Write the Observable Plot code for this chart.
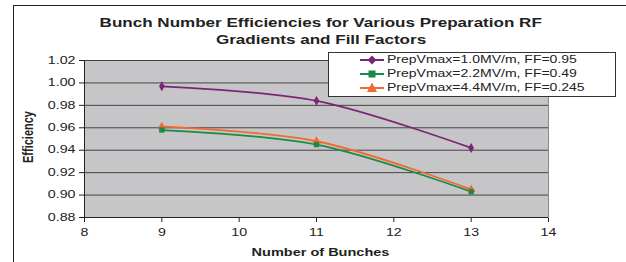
<!DOCTYPE html>
<html>
<head>
<meta charset="utf-8">
<script src="https://cdn.jsdelivr.net/npm/d3@7"></script>
<script src="https://cdn.jsdelivr.net/npm/@observablehq/plot@0.6"></script>
<style>
  html, body { margin: 0; padding: 0; background: #fff; }
  #wrap { position: relative; width: 626px; height: 262px; overflow: hidden; font-family: "Liberation Sans", Arial, sans-serif; color: #222; }
  #border { position: absolute; left: 13px; top: 5px; width: 700px; height: 300px; border-left: 1px solid #222; border-top: 1px solid #222; }
  .tline { position: absolute; left: 0; width: 642px; text-align: center; font-weight: bold; font-size: 12px; line-height: 17px; white-space: nowrap; }
  .st { display: inline-block; transform: scaleX(1.42); transform-origin: center; }
  #legend { position: absolute; left: 328px; top: 52px; width: 286px; height: 43px; border: 1px solid #333; background: #fff; font-size: 10px; }
  .row { position: absolute; left: 31px; height: 14px; line-height: 14px; white-space: nowrap; }
  .row svg { position: absolute; left: 0; top: 0; }
  .row span { position: absolute; left: 27px; top: 0; display: inline-block; transform: scaleX(1.4); transform-origin: left center; }
  #xlabel { position: absolute; left: 0; width: 641px; top: 247px; text-align: center; font-weight: bold; font-size: 10px; line-height: 12px; white-space: nowrap; }
  #ylabel { position: absolute; left: 28px; top: 137px; font-weight: bold; font-size: 11px; line-height: 12px; white-space: nowrap; transform: translate(-50%, -50%) rotate(-90deg) scaleY(1.35); }
  #chart { position: absolute; left: 0; top: 0; }
</style>
</head>
<body>
<div id="wrap">
  <div id="chart"></div>
  <div id="border"></div>
  <div class="tline" style="top:15px"><span class="st">Bunch Number Efficiencies for Various Preparation RF</span></div>
  <div class="tline" style="top:32px"><span class="st">Gradients and Fill Factors</span></div>
  <div id="legend"></div>
  <div id="xlabel"><span class="st" style="transform: scaleX(1.45)">Number of Bunches</span></div>
  <div id="ylabel">Efficiency</div>
</div>
<script>
const bunches = [9, 11, 13];
const seriesNames = [
  "PrepVmax=1.0MV/m, FF=0.95",
  "PrepVmax=2.2MV/m, FF=0.49",
  "PrepVmax=4.4MV/m, FF=0.245"
];
const eff1 = [0.997, 0.984, 0.942];
const eff2 = [0.958, 0.945, 0.903];
const eff3 = [0.961, 0.948, 0.905];
const colors = ["#7b2577", "#1a8a48", "#f26a2e"];
const symbols = ["diamond", "square", "triangle"];
const yTicks = [0.88, 0.90, 0.92, 0.94, 0.96, 0.98, 1.00, 1.02];
const xTicks = [8, 9, 10, 11, 12, 13, 14];

const allSeries = [eff1, eff2, eff3];
const data = allSeries.flatMap((vals, i) => bunches.map((b, j) => ({series: seriesNames[i], x: b, y: vals[j], k: i})));

const chart = Plot.plot({
  width: 626,
  height: 262,
  marginLeft: 84,
  marginRight: 78,
  marginTop: 60,
  marginBottom: 45,
  style: { fontFamily: "'Liberation Sans', Arial, sans-serif", fontSize: "10px", color: "#222", background: "transparent" },
  x: { domain: [8, 14], ticks: xTicks, tickFormat: d3.format("d"), label: null, tickSize: 5, tickPadding: 6 },
  y: { domain: [0.88, 1.02], ticks: yTicks, tickFormat: d3.format(".2f"), label: null, tickSize: 5, tickPadding: 4 },
  color: { domain: seriesNames, range: colors },
  symbol: { domain: seriesNames, range: symbols },
  marks: [
    Plot.frame({ fill: "#c6c6c8", stroke: null }),
    Plot.gridY(yTicks.slice(1), { stroke: "#444", strokeOpacity: 1, strokeWidth: 1 }),
    Plot.frame({ anchor: "right", stroke: "#888" }),
    Plot.ruleX([8], { stroke: "#222" }),
    Plot.ruleY([0.88], { stroke: "#222" }),
    Plot.line(data, { x: "x", y: "y", z: "series", stroke: "series", strokeWidth: 1.8, curve: "catmull-rom" }),
    Plot.dot(data, { x: "x", y: "y", fill: "series", symbol: "series", r: d => d.k === 2 ? 4.8 : 4.2, stroke: "none" })
  ]
});
document.getElementById("chart").appendChild(chart);

// stretch tick labels horizontally to match the reference's wide glyphs
chart.querySelectorAll("text").forEach(t => {
  const L = t.getComputedTextLength();
  if (L > 0) {
    t.setAttribute("textLength", (L * 1.42).toFixed(2));
    t.setAttribute("lengthAdjust", "spacingAndGlyphs");
  }
});

// Legend
const legend = document.getElementById("legend");
const symPaths = {
  diamond: '<path d="M12 2.5L16.5 7L12 11.5L7.5 7Z"/>',
  square: '<rect x="8.5" y="3.5" width="7" height="7"/>',
  triangle: '<path d="M12 1.5L17 11L7 11Z"/>'
};
seriesNames.forEach((name, i) => {
  const row = document.createElement("div");
  row.className = "row";
  row.style.top = (i * 14) + "px";
  row.innerHTML = `<svg width="24" height="14"><line x1="0" x2="24" y1="7" y2="7" stroke="${colors[i]}" stroke-width="2"/><g fill="${colors[i]}">${symPaths[symbols[i]]}</g></svg><span>${name}</span>`;
  legend.appendChild(row);
});
</script>
</body>
</html>
